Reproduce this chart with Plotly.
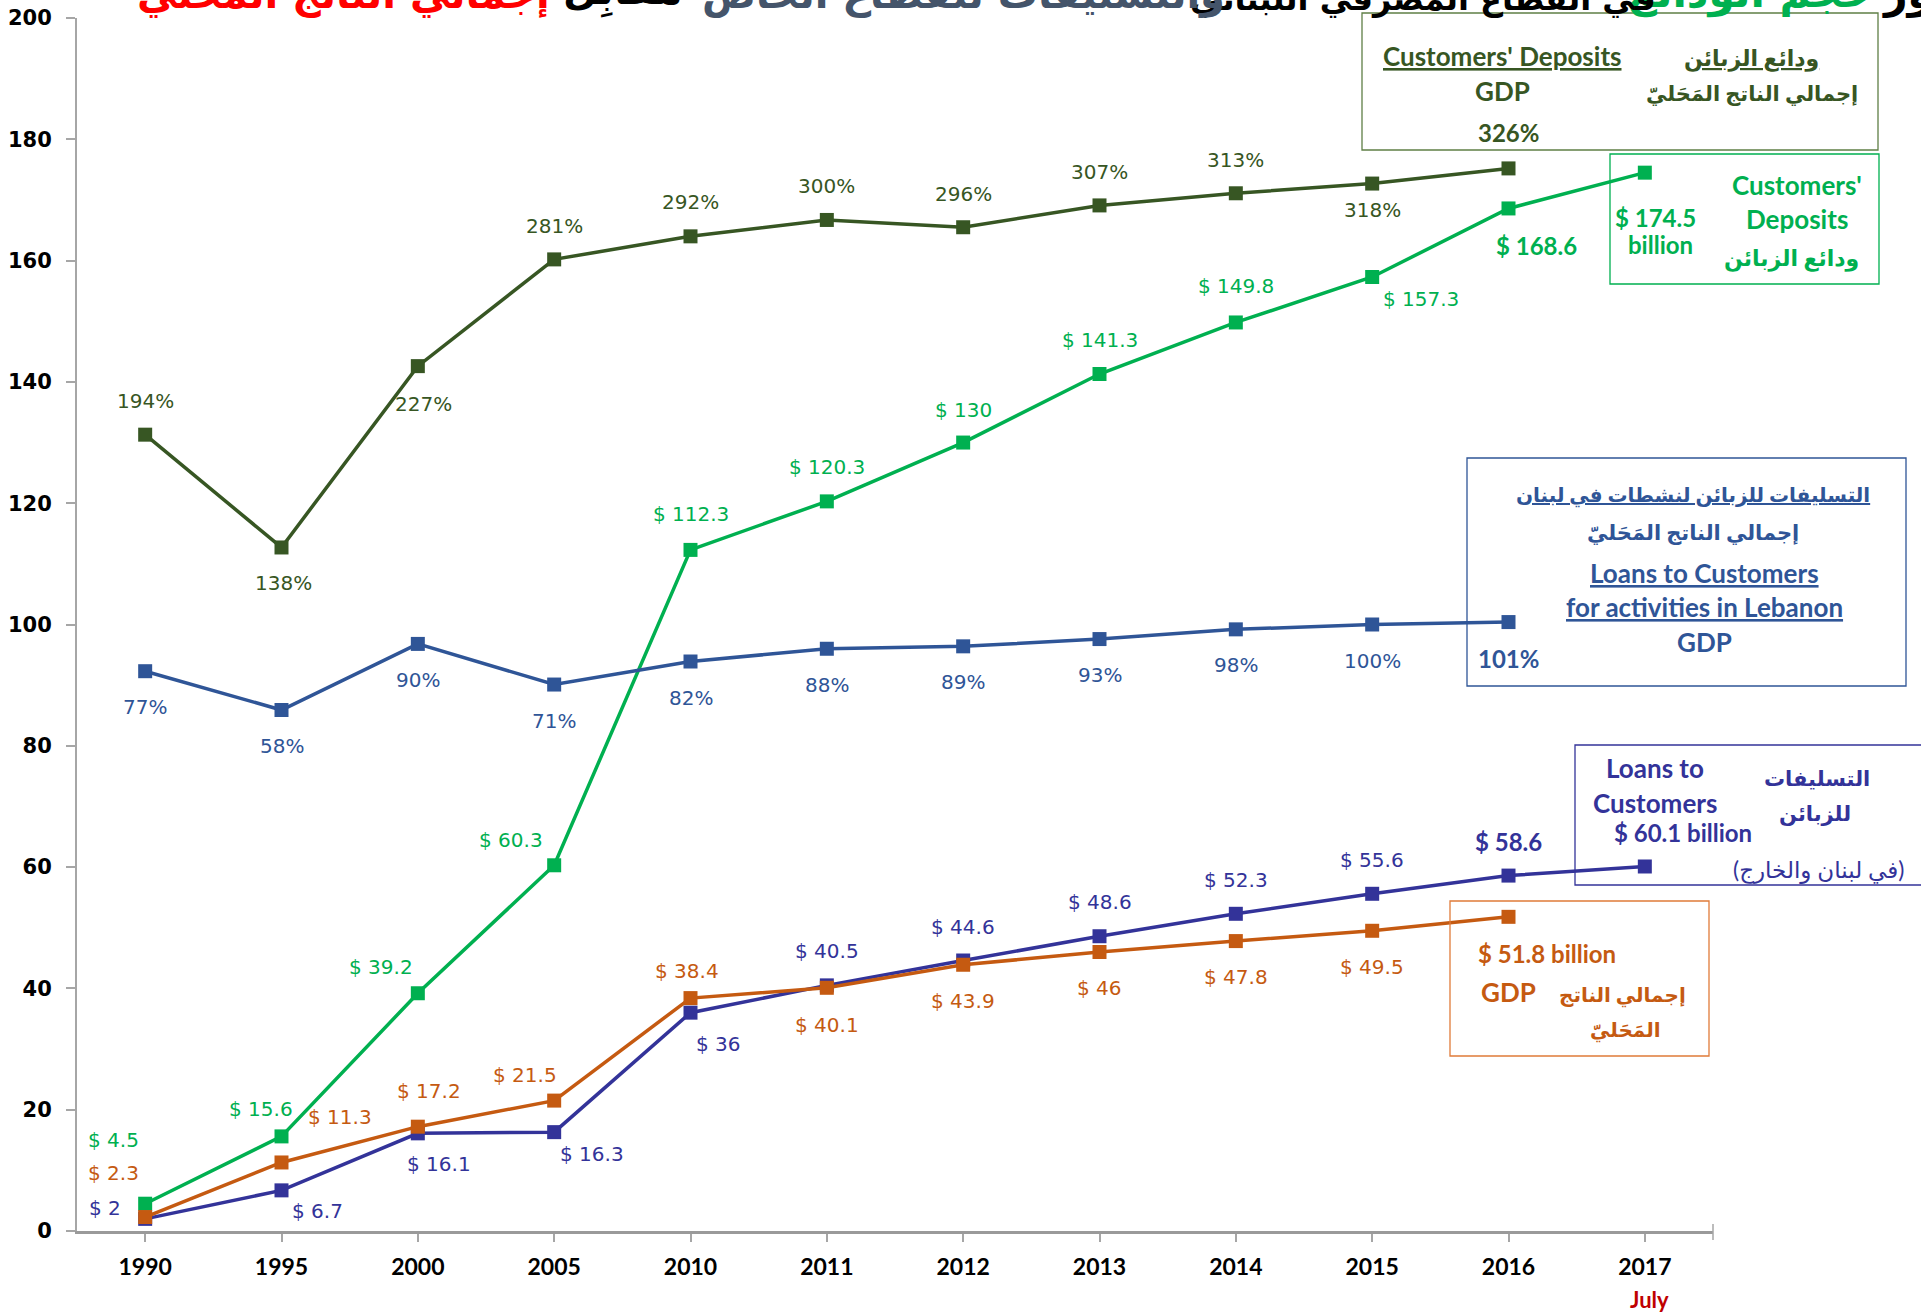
import plotly.graph_objects as go

# categories
years = ['1990', '1995', '2000', '2005', '2010', '2011', '2012', '2013', '2014', '2015', '2016', '2017']

# $ billion series
deposits = [4.5, 15.6, 39.2, 60.3, 112.3, 120.3, 130, 141.3, 149.8, 157.3, 168.6, 174.5]
loans = [2, 6.7, 16.1, 16.3, 36, 40.5, 44.6, 48.6, 52.3, 55.6, 58.6, 60.1]
gdp = [2.3, 11.3, 17.2, 21.5, 38.4, 40.1, 43.9, 46, 47.8, 49.5, 51.8, None]

# ratio series (plotted level / printed percentage)
dep_gdp_level = [131.3, 112.7, 142.6, 160.2, 164.0, 166.7, 165.5, 169.1, 171.1, 172.7, 175.2]
dep_gdp_pct = [194, 138, 227, 281, 292, 300, 296, 307, 313, 318, 326]
loan_leb_level = [92.3, 85.9, 96.8, 90.1, 93.9, 96.0, 96.4, 97.6, 99.2, 100.0, 100.4]
loan_leb_pct = [77, 58, 90, 71, 82, 88, 89, 93, 98, 100, 101]

# colours
DKGREEN = '#375623'
GREEN = '#00b050'
BLUE = '#2f5597'
INDIGO = '#333399'
ORANGE = '#c55a11'

LATO = 'Lato, DejaVu Sans'
DEJA = 'DejaVu Sans'

# plot area in pixels
L, R, T, B = 77, 1713, 18, 1231
W, H = R - L, B - T


def px(x):
    return (x - L) / W


def py(y):
    return (B - y) / H


fig = go.Figure()


def add_line(vals, color, name):
    fig.add_trace(go.Scatter(x=years[:len(vals)], y=vals, mode='lines+markers', name=name,
                             line=dict(color=color, width=3.5),
                             marker=dict(symbol='square', size=14, color=color)))


add_line(dep_gdp_level, DKGREEN, 'deposits/GDP')
add_line(deposits, GREEN, 'deposits')
add_line(loan_leb_level, BLUE, 'loans Lebanon/GDP')
add_line(loans, INDIGO, 'loans')
add_line(gdp, ORANGE, 'GDP')

ann = []


def data_labels(vals, texts, offsets, color, bold_from):
    # x given as category index (numeric-looking category names would be read as numbers)
    for i, (v, t, (dx, dy)) in enumerate(zip(vals, texts, offsets)):
        if v is None:
            continue
        bold = i >= bold_from
        ann.append(dict(x=i, y=v, xref='x', yref='y', text=t, showarrow=False,
                        xshift=dx, yshift=dy, xanchor='center', yanchor='middle',
                        font=dict(family=LATO if bold else DEJA, size=24 if bold else 20,
                                  color=color, weight='bold' if bold else 'normal')))


data_labels(dep_gdp_level, [f'{p}%' for p in dep_gdp_pct],
            [(0, 34), (2, -36), (6, -38), (0, 33), (0, 34), (0, 34), (0, 33), (0, 33), (0, 33), (0, -26), (0, 36)],
            DKGREEN, 10)
data_labels(deposits, [f'$ {v:g}' for v in deposits],
            [(-32, 64), (-21, 27), (-37, 26), (-43, 25), (0, 36), (0, 34), (0, 33), (0, 34), (0, 36), (49, -22),
             (28, -37), (11, -45)],
            GREEN, 10)
data_labels(loan_leb_level, [f'{p}%' for p in loan_leb_pct], [(0, -36)] * 11, BLUE, 10)
data_labels(loans, [f'$ {v:g}' for v in loans[:-1]] + [f'$ {loans[-1]:g} billion'],
            [(-40, 11), (36, -21), (21, -31), (38, -22), (28, -31), (0, 34), (0, 34), (0, 34), (0, 34), (0, 34),
             (0, 34), (38, 34)],
            INDIGO, 10)
data_labels(gdp, [f'$ {v:g}' for v in gdp[:10]] + ['$ 51.8 billion', ''],
            [(-32, 44), (58, 45), (11, 36), (-29, 26), (-4, 27), (0, -37), (0, -36), (0, -36), (0, -36), (0, -36),
             (38, -37), (0, 0)],
            ORANGE, 10)


def note(x, y, text, color, size=26, bold=True, xanchor='center', yanchor='middle', family=LATO):
    ann.append(dict(xref='paper', yref='paper', x=px(x), y=py(y), text=text, showarrow=False,
                    xanchor=xanchor, yanchor=yanchor,
                    font=dict(family=family, size=size, color=color, weight='bold' if bold else 'normal')))


# boxes
shapes = []


def box(x0, y0, x1, y1, color):
    shapes.append(dict(type='rect', xref='paper', yref='paper', x0=px(x0), x1=px(x1), y0=py(y1), y1=py(y0),
                       line=dict(color=color, width=1.3)))


box(1362, 13, 1878, 150, '#5f7f45')
note(1502, 56, "<u>Customers' Deposits</u>", DKGREEN)
note(1502, 91, 'GDP', DKGREEN)
note(1752, 58, '<u>ودائع الزبائن</u>', DKGREEN, size=22)
note(1752, 93, 'إجمالي الناتج المَحَليّ', DKGREEN, size=21)

box(1610, 154, 1879, 284, GREEN)
note(1797, 185, "Customers'", GREEN)
note(1797, 219, 'Deposits', GREEN)
note(1791, 258, 'ودائع الزبائن', GREEN, size=22)
note(1660, 245, 'billion', GREEN, size=24)

box(1467, 458, 1906, 686, BLUE)
note(1693, 495, '<u>التسليفات للزبائن لنشطات في لبنان</u>', BLUE, size=20)
note(1693, 532, 'إجمالي الناتج المَحَليّ', BLUE, size=21)
note(1704, 573, '<u>Loans to Customers</u>', BLUE)
note(1704, 607, '<u>for activities in Lebanon</u>', BLUE)
note(1704, 642, 'GDP', BLUE)

box(1575, 745, 1930, 885, INDIGO)
note(1655, 768, 'Loans to', INDIGO)
note(1655, 803, 'Customers', INDIGO)
note(1817, 777, 'التسليفات', INDIGO, size=21)
note(1815, 813, 'للزبائن', INDIGO, size=21)
note(1818, 870, '(في لبنان والخارج)', INDIGO, size=23, bold=False)

box(1450, 901, 1709, 1056, '#e07b39')
note(1508, 992, 'GDP', ORANGE)
note(1622, 995, 'إجمالي الناتج', ORANGE, size=20)
note(1625, 1030, 'المَحَليّ', ORANGE, size=20)

# title along the top edge, mostly cut off by the page border
title_parts = [
    ('تطوّر', '#000000', 1880, 'left', 41),
    ('حجم الودائع', GREEN, 1875, 'right', 42),
    ('في القطاع المصرفي اللبناني', '#000000', 1658, 'right', 32),
    ('والتسليفات للقطاع الخاص', '#44546a', 1227, 'right', 40),
    ('مقابِل', '#000000', 684, 'right', 40),
    ('إجمالي الناتج المحلي', '#ff0000', 552, 'right', 40),
]
for txt, col, xx, anc, sz in title_parts:
    note(xx, 20, txt, col, size=sz, xanchor=anc, yanchor='bottom', family=DEJA)

# "July" under 2017
ann.append(dict(x=11, y=py(1299), xref='x', yref='paper', text='July', showarrow=False, xshift=5,
                xanchor='center', yanchor='middle',
                font=dict(family=LATO, size=22, color='#c00000', weight='bold')))

# end tick on the x axis
shapes.append(dict(type='line', xref='paper', yref='paper', x0=1, x1=1, y0=py(1224), y1=py(1240),
                   line=dict(color='#a6a6a6', width=1.5)))

fig.update_layout(
    width=1921, height=1313,
    margin=dict(l=L, r=1921 - R, t=T, b=1313 - B),
    plot_bgcolor='white', paper_bgcolor='white',
    showlegend=False,
    annotations=ann, shapes=shapes,
)
fig.update_xaxes(type='category', range=[-0.5, 11.5], showgrid=False, zeroline=False, automargin=False,
                 showline=True, linecolor='#9a9a9a', linewidth=2.5,
                 ticks='outside', ticklen=8, tickcolor='#a6a6a6', tickwidth=1.5,
                 ticklabelstandoff=6,
                 tickfont=dict(family=LATO, size=23, color='black', weight='bold'))
fig.update_yaxes(range=[0, 200], dtick=20, showgrid=False, zeroline=False, automargin=False,
                 showline=True, linecolor='#a6a6a6', linewidth=2,
                 ticks='outside', ticklen=9, tickcolor='#a6a6a6', tickwidth=1.5,
                 ticklabelstandoff=10,
                 tickfont=dict(family=DEJA, size=21, color='black', weight='bold'))

fig.write_html('out.html', config={'displayModeBar': False},
               post_script="document.body.style.margin='0';")
